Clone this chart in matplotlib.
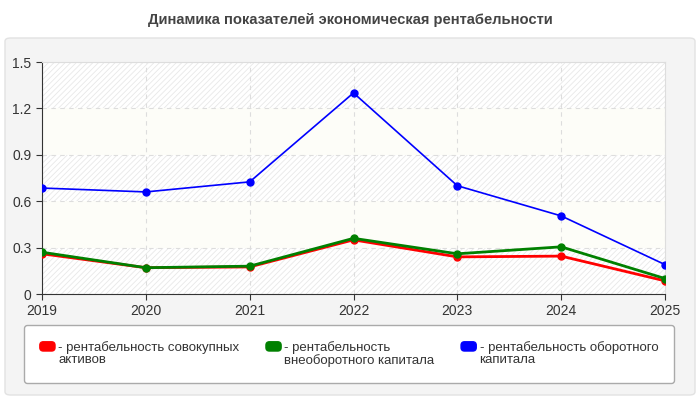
import matplotlib.pyplot as plt
from matplotlib.patches import FancyBboxPatch, Patch
from matplotlib.legend_handler import HandlerPatch

plt.rcParams['font.family'] = ['Liberation Sans', 'DejaVu Sans']
plt.rcParams['hatch.color'] = '#e6e6e6'
plt.rcParams['hatch.linewidth'] = 0.6

#%% Данные
years = [2019, 2020, 2021, 2022, 2023, 2024, 2025]
rent_sovok = [0.26, 0.17, 0.175, 0.35, 0.24, 0.245, 0.085]
rent_vneob = [0.27, 0.17, 0.18, 0.36, 0.26, 0.305, 0.10]
rent_oborot = [0.685, 0.66, 0.725, 1.30, 0.70, 0.505, 0.19]
labels = ['- рентабельность совокупных\nактивов',
          '- рентабельность\nвнеоборотного капитала',
          '- рентабельность оборотного\nкапитала']
colors = ['#ff0000', '#008000', '#0000ff']
yticks = [0, 0.3, 0.6, 0.9, 1.2, 1.5]


def patch_top(legend, orig_handle, xdescent, ydescent, width, height, fontsize):
    # квадратик на уровне первой строки подписи
    return FancyBboxPatch((-xdescent, -ydescent + 0.55 * fontsize), width, height,
                          boxstyle='round,pad=0,rounding_size=2.5')


#%% Рисунок
fig = plt.figure(figsize=(7, 4), dpi=100)
fig.patch.set_facecolor('white')
panel = FancyBboxPatch((5/700, 5/400), 690/700, 357/400, transform=fig.transFigure,
                       boxstyle='round,pad=0,rounding_size=0.008',
                       facecolor='#f4f4f4', edgecolor='#e2e2e2', linewidth=1, zorder=-5)
fig.patches.append(panel)
fig.text(0.5, 1 - 20/400, 'Динамика показателей экономическая рентабельности',
         ha='center', va='center', fontsize=10.6, fontweight='bold', color='#444444')

ax = fig.add_axes([42/700, 1 - 294/400, 623/700, 232/400])
ax.set_facecolor('white')
for i in range(len(yticks) - 1):
    if i % 2 == 0:
        ax.axhspan(yticks[i], yticks[i+1], facecolor='white', hatch='//////',
                   edgecolor='#e8e8e8', linewidth=0, zorder=0)
    else:
        ax.axhspan(yticks[i], yticks[i+1], facecolor='#fdfdf8', linewidth=0, zorder=0)

series = [rent_sovok, rent_vneob, rent_oborot]
widths = [2, 2, 1.2]
for vals, c, lw in zip(series, colors, widths):
    ax.plot(years, vals, color=c, linewidth=lw, marker='o', markersize=5, zorder=3)

ax.set_xlim(2019, 2025)
ax.set_ylim(0, 1.5)
ax.set_xticks(years)
ax.set_yticks(yticks)
ax.set_yticklabels(['0', '0.3', '0.6', '0.9', '1.2', '1.5'])
ax.grid(True, linestyle=(0, (4, 4)), color='#dddddd', linewidth=0.8)
ax.tick_params(labelsize=10, colors='#333333', length=4)
for s in ['top', 'right']:
    ax.spines[s].set_color('#dddddd')
for s in ['left', 'bottom']:
    ax.spines[s].set_color('#333333')

handles = [Patch(facecolor=c, edgecolor=c) for c in colors]
leg = fig.legend(handles, labels, loc='upper left', ncol=3, mode='expand',
                 bbox_to_anchor=(24/700, 1 - 382/400, 650/700, 57/400),
                 prop={'size': 9.5}, frameon=True, fancybox=True,
                 handlelength=1.15, handleheight=0.7, handletextpad=0.25,
                 borderaxespad=0.0, borderpad=1.2,
                 labelspacing=0.2, labelcolor='#333333',
                 handler_map={Patch: HandlerPatch(patch_func=patch_top)})
leg.get_frame().set_facecolor('white')
leg.get_frame().set_edgecolor('#aaaaaa')
leg.get_frame().set_alpha(1)
for t in leg.get_texts():
    t.set_linespacing(1.0)

fig.savefig('out.png', dpi=100)
